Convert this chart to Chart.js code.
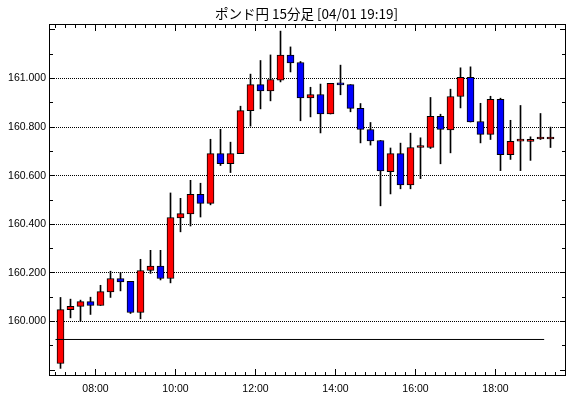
<!DOCTYPE html>
<html><head><meta charset="utf-8">
<script src="https://cdn.jsdelivr.net/npm/chart.js@4"></script>
<style>
html,body{margin:0;padding:0;background:#fff;}
#wrap{position:relative;width:570px;height:398px;overflow:hidden;}
#title{position:absolute;left:43px;width:527px;top:5px;text-align:center;font:13.5px/16px "Noto Sans CJK JP",sans-serif;color:#000;white-space:nowrap;}
canvas{position:absolute;left:0;top:0;}
</style></head>
<body><div id="wrap"><canvas id="c" width="570" height="398"></canvas><div id="title"></div></div>
<script>
const titleText = "ポンド円 15分足 [04/01 19:19]";
const times = ["07:00","07:15","07:30","07:45","08:00","08:15","08:30","08:45","09:00","09:15",
  "09:30","09:45","10:00","10:15","10:30","10:45","11:00","11:15","11:30","11:45",
  "12:00","12:15","12:30","12:45","13:00","13:15","13:30","13:45","14:00","14:15",
  "14:30","14:45","15:00","15:15","15:30","15:45","16:00","16:15","16:30","16:45",
  "17:00","17:15","17:30","17:45","18:00","18:15","18:30","18:45","19:00","19:15"];
const open = [159.827,160.049,160.062,160.082,160.066,160.122,160.177,160.165,160.037,160.210,
  160.228,160.177,160.426,160.443,160.523,160.486,160.691,160.650,160.691,160.868,
  160.975,160.949,160.993,161.096,161.066,160.920,160.934,160.854,160.976,160.975,
  160.877,160.790,160.745,160.617,160.691,160.562,160.716,160.716,160.844,160.788,
  160.926,161.005,160.823,160.770,160.914,160.687,160.742,160.741,160.751,160.751];
const high = [160.099,160.092,160.088,160.100,160.149,160.207,160.202,160.165,160.256,160.293,
  160.293,160.529,160.507,160.581,160.569,160.750,160.791,160.738,160.886,161.018,
  161.074,161.097,161.195,161.130,161.070,160.964,160.977,160.980,161.055,160.975,
  160.897,160.819,160.745,160.714,160.734,160.775,160.756,160.922,160.853,160.956,
  161.044,161.048,160.898,160.927,160.919,160.828,160.889,160.760,160.856,160.800];
const low = [159.807,160.015,160.001,160.029,160.066,160.099,160.126,160.033,160.011,160.198,
  160.171,160.159,160.369,160.393,160.430,160.480,160.642,160.613,160.691,160.804,
  160.875,160.908,160.986,161.027,160.826,160.842,160.776,160.854,160.933,160.863,
  160.735,160.726,160.476,160.525,160.546,160.546,160.588,160.712,160.649,160.694,
  160.879,160.821,160.735,160.749,160.621,160.667,160.621,160.663,160.749,160.716];
const close = [160.049,160.062,160.082,160.066,160.123,160.177,160.163,160.037,160.210,160.228,
  160.177,160.428,160.444,160.523,160.486,160.691,160.650,160.691,160.868,160.975,
  160.949,160.996,161.096,161.064,160.920,160.934,160.854,160.980,160.974,160.877,
  160.790,160.743,160.620,160.691,160.562,160.716,160.716,160.844,160.790,160.926,
  161.005,160.821,160.770,160.914,160.687,160.741,160.742,160.749,160.751,160.751];
const xTickLabels = ["08:00","10:00","12:00","14:00","16:00","18:00"];
const yTickLabels = ["160.000","160.200","160.400","160.600","160.800","161.000"];
const refLevel = 159.926;
const refStart = "07:00";
const refEnd = "19:13";

document.getElementById('title').textContent = titleText;

const toH = s => { const [h,m] = s.split(':').map(Number); return h + m/60; };
const half = 7.5/60;
const xTickValues = xTickLabels.map(toH);
const yTickValues = yTickLabels.map(Number);
const UP = '#FF0000', DOWN = '#0000FF';

const wickData = times.map((t,i) => ({x: toH(t) + half, y: [low[i], high[i]]}));
const bodyData = times.map((t,i) => ({x: toH(t) + half, y: [open[i], close[i]]}));
const bodyColors = times.map((t,i) => close[i] >= open[i] ? UP : DOWN);

const frame = {
  id: 'frame',
  beforeDatasetsDraw(chart) {
    const {ctx, chartArea: a, scales: {y}} = chart;
    ctx.save();
    ctx.fillStyle = '#000';
    yTickValues.forEach(v => {
      const row = Math.floor(y.getPixelForValue(v));
      for (let px = a.left + 1; px < a.right - 1; px += 2) ctx.fillRect(px, row, 1, 1);
    });
    ctx.restore();
  },
  afterDatasetsDraw(chart) {
    const {ctx, chartArea: a, scales: {x, y}} = chart;
    const w = a.right - a.left, h = a.bottom - a.top;
    ctx.save();
    ctx.fillStyle = '#000';
    ctx.fillRect(a.left, a.top, w, 1);
    ctx.fillRect(a.left, a.bottom - 1, w, 1);
    ctx.fillRect(a.left, a.top, 1, h);
    ctx.fillRect(a.right - 1, a.top, 1, h);
    for (let m = 7 * 60; m / 60 < x.max - 0.2; m += 15) {
      const col = Math.floor(x.getPixelForValue(m / 60));
      const len = (m % 120 === 0) ? 6 : 3;
      ctx.fillRect(col, a.bottom - 1 - len, 1, len);
      ctx.fillRect(col, a.top + 1, 1, len);
    }
    for (let k = Math.ceil(y.min * 10); k <= Math.floor(y.max * 10); k++) {
      const row = Math.floor(y.getPixelForValue(k / 10));
      const len = (k % 2 === 0) ? 5 : 3;
      ctx.fillRect(a.left + 1, row, len, 1);
      ctx.fillRect(a.right - 1 - len, row, len, 1);
    }
    ctx.restore();
  }
};

const tickFont = {family: "'Liberation Sans', Arial, sans-serif", size: 10.5};

new Chart(document.getElementById('c'), {
  type: 'bar',
  data: {
    datasets: [
      {type: 'line', data: [{x: toH(refStart), y: refLevel}, {x: toH(refEnd), y: refLevel}],
        borderColor: '#000', borderWidth: 1, pointRadius: 0, fill: false, order: 0},
      {data: bodyData, backgroundColor: bodyColors, borderColor: '#000', borderWidth: 1,
        borderSkipped: false, barThickness: 7, minBarLength: 2, grouped: false, order: 1},
      {data: wickData, backgroundColor: '#000', borderWidth: 0, barThickness: 1,
        grouped: false, order: 2}
    ]
  },
  options: {
    responsive: false, animation: false, devicePixelRatio: 1,
    layout: {padding: {left: 0, right: 4, top: 24, bottom: 0}},
    plugins: {legend: {display: false}, tooltip: {enabled: false}, title: {display: false}},
    scales: {
      x: {
        type: 'linear', offset: false, min: 6.8375, max: 19.7625,
        grid: {display: false, drawTicks: false, offset: false}, border: {display: false},
        afterBuildTicks: s => { s.ticks = xTickValues.map(v => ({value: v})); },
        afterFit: s => { s.height = 22; },
        ticks: {autoSkip: false, maxRotation: 0, padding: 7, color: '#000', font: tickFont,
          callback: v => xTickLabels[xTickValues.indexOf(v)]}
      },
      y: {
        type: 'linear', min: 159.7757, max: 161.2243,
        grid: {display: false, drawTicks: false}, border: {display: false},
        afterBuildTicks: s => { s.ticks = yTickValues.map(v => ({value: v})); },
        afterFit: s => { s.width = 49; },
        ticks: {autoSkip: false, padding: 3, color: '#000', font: tickFont,
          callback: v => yTickLabels[yTickValues.indexOf(v)]}
      }
    }
  },
  plugins: [frame]
});
</script>
</body></html>
